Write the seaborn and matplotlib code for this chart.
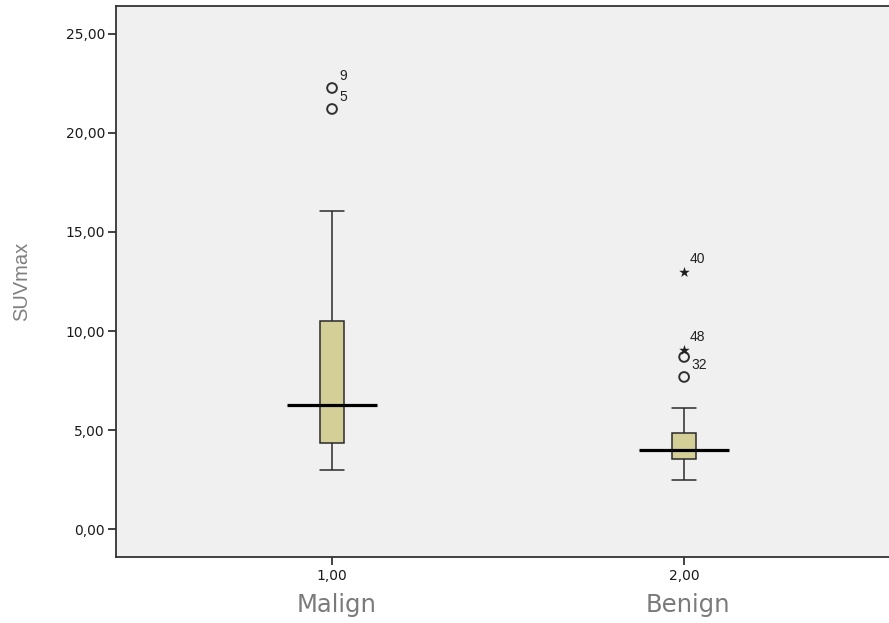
import matplotlib
matplotlib.use("Agg")
import matplotlib.pyplot as plt
import matplotlib.transforms as mtransforms
from matplotlib.ticker import FuncFormatter
import numpy as np
import pandas as pd
import seaborn as sns

# Group codes shown on the axis and their names
groups = ["1,00", "2,00"]
group_names = ["Malign", "Benign"]

# Five-number summaries (whisker low, Q1, median, Q3, whisker high)
malign_summary = [2.98, 4.34, 6.26, 10.50, 16.06]
benign_summary = [2.47, 3.54, 3.99, 4.85, 6.11]

# Outlying cases: circles (mild) and stars (extreme), with case numbers
circle_groups = ["1,00", "1,00", "2,00", "2,00"]
circle_values = [22.27, 21.21, 8.69, 7.68]
circle_ids = ["9", "5", "32", ""]

star_groups = ["2,00", "2,00"]
star_values = [12.98, 9.04]
star_ids = ["40", "48"]

y_ticks = [0, 5, 10, 15, 20, 25]

sns.set_style("white")
plt.rcParams["font.family"] = ["DejaVu Sans"]

fig = plt.figure(figsize=(8.89, 6.23), dpi=100)
ax = fig.add_axes([116 / 889, 66 / 623, 773 / 889, 551 / 623])
ax.set_facecolor("#f0f0f0")

summary_df = pd.DataFrame({
    "group": [groups[0]] * len(malign_summary) + [groups[1]] * len(benign_summary),
    "value": malign_summary + benign_summary,
})

edge = "#2a2a2a"
box_w = 0.068
sns.boxplot(
    data=summary_df, x="group", y="value", order=groups,
    whis=(0, 100), width=box_w, color="#d4cf97", saturation=1,
    linecolor=edge, linewidth=1.1, capwidths=box_w, ax=ax,
)

# Wide median bars across each box
medians = [malign_summary[2], benign_summary[2]]
for i, m in enumerate(medians):
    ax.hlines(m, i - 0.127, i + 0.127, color="black", lw=2.3, zorder=5)

circle_df = pd.DataFrame({"group": circle_groups, "value": circle_values})
sns.stripplot(
    data=circle_df, x="group", y="value", order=groups, jitter=False,
    marker="o", size=7, linewidth=1.4, edgecolor="#303030", color="#303030",
    ax=ax, zorder=6,
)
for coll in ax.collections[-len(groups):]:
    coll.set_facecolor("none")

star_df = pd.DataFrame({"group": star_groups, "value": star_values})
sns.stripplot(
    data=star_df, x="group", y="value", order=groups, jitter=False,
    marker="*", size=8, linewidth=0, color="#202020", ax=ax, zorder=6,
)

# Case number labels next to outlying points
label_kw = dict(textcoords="offset points", fontsize=10, color="#222222",
                ha="left", family="Liberation Sans")
for g, v, t in zip(circle_groups, circle_values, circle_ids):
    if not t:
        continue
    x = groups.index(g)
    if t == "32":
        ax.annotate(t, (x, v), xytext=(5, -1), va="top", **label_kw)
    else:
        ax.annotate(t, (x, v), xytext=(5, 3.5), va="bottom", **label_kw)
for g, v, t in zip(star_groups, star_values, star_ids):
    x = groups.index(g)
    ax.annotate(t, (x, v), xytext=(4, 4.5), va="bottom", **label_kw)

ax.set_xlim(-0.6136, 1.582)
ax.set_ylim(-1.41, 26.41)
ax.set_yticks(y_ticks)
ax.yaxis.set_major_formatter(FuncFormatter(lambda v, p: f"{v:.2f}".replace(".", ",")))
ax.set_xticks(range(len(groups)))
ax.set_xticklabels(groups)
ax.tick_params(axis="both", direction="out", length=6, width=1.2, color="#222222",
               labelsize=10, labelcolor="#1a1a1a", pad=2)
ax.tick_params(axis="x", labelsize=10, pad=3)
ax.tick_params(left=True, bottom=True)

for side in ["left", "bottom", "top"]:
    ax.spines[side].set_visible(True)
    ax.spines[side].set_color("#333333")
    ax.spines[side].set_linewidth(1.3)
ax.spines["right"].set_visible(False)

ax.set_xlabel("")
ax.set_ylabel("SUVmax", fontsize=14.5, color="#808080", family="Liberation Sans",
              labelpad=25)

# Group names below the axis codes
trans = mtransforms.blended_transform_factory(ax.transData, fig.transFigure)
for i, name in enumerate(group_names):
    ax.text(i + 0.012, 11 / 623, name, transform=trans, ha="center", va="baseline",
            fontsize=17.5, color="#7a7a7a")

fig.savefig("out.png", dpi=100)
